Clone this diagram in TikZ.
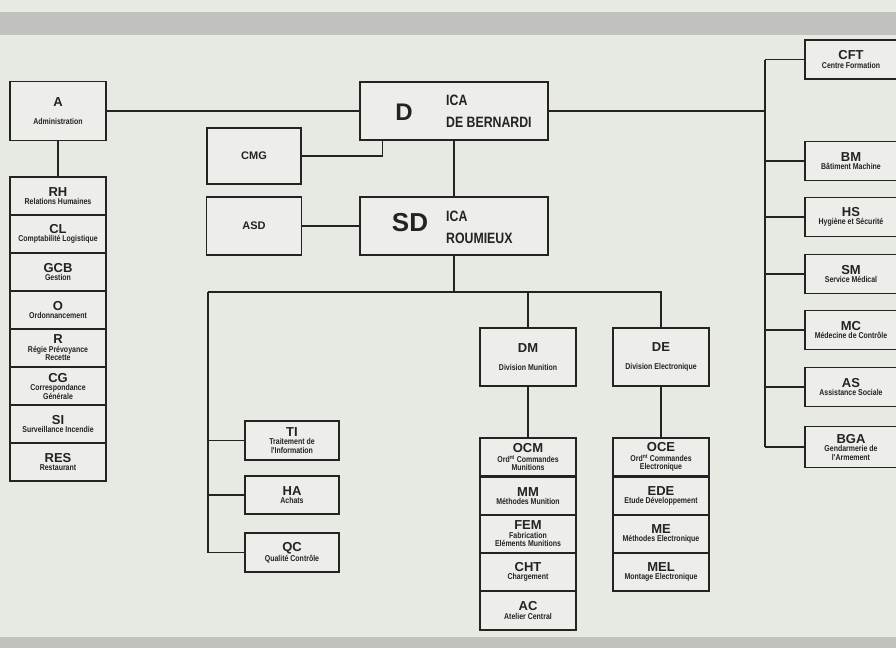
\documentclass[tikz,border=0pt]{standalone}
\usepackage{fontspec}
\setmainfont{Liberation Sans}
\newfontfamily\narrowfont[FakeStretch=0.82]{Liberation Sans}
\usetikzlibrary{positioning}
\definecolor{paper}{RGB}{231, 233, 227}
\definecolor{boxfill}{RGB}{237, 238, 233}
\definecolor{band}{RGB}{193, 194, 190}
\definecolor{ink}{RGB}{35, 35, 35}
\newcommand{\abv}{\rmfamily\bfseries\fontsize{13}{13}\selectfont}
\newcommand{\bigabv}{\rmfamily\bfseries\fontsize{24}{24}\selectfont}

\begin{document}
\begin{tikzpicture}[
  x=1pt, y=-1pt,
  box/.style={rectangle, draw=ink, line width=1.3pt, fill=boxfill, inner sep=1pt,
    align=center, text=ink, font=\narrowfont\bfseries\fontsize{8.5}{8.5}\selectfont},
  unit/.style={box, minimum width=96pt, minimum height=38pt},
  side/.style={box, minimum width=92pt, minimum height=39pt},
  icaname/.style={font=\narrowfont\bfseries\fontsize{15}{22}\selectfont, text=ink, align=left, inner sep=0pt},
  link/.style={draw=ink, line width=1.2pt}
]
\useasboundingbox (0,0) rectangle (896,648);
\fill[paper] (0,0) rectangle (896,648);
\fill[band] (0,12) rectangle (896,35);
\fill[band] (0,637) rectangle (896,648);

% Direction
\node[box, minimum width=188pt, minimum height=58pt] (D) at (454,111) {};
\node[font=\bigabv, text=ink] (Dl) at (404,112) {D};
\node[icaname, anchor=west] (Dn) at (446,111) {ICA\\DE BERNARDI};
\node[box, minimum width=94pt, minimum height=56pt, font=\abv\fontsize{11}{11}\selectfont] (CMG) at (254,156) {CMG};

% Sous-direction
\node[box, minimum width=188pt, minimum height=58pt] (SD) at (454,226) {};
\node[font=\bigabv\fontsize{26}{26}\selectfont, text=ink] (SDl) at (410,223) {SD};
\node[icaname, anchor=west] (SDn) at (446,227) {ICA\\ROUMIEUX};
\node[box, minimum width=95pt, minimum height=58pt, font=\abv\fontsize{11}{11}\selectfont] (ASD) at (254,226) {ASD};

% Administration
\node[unit, minimum height=59pt] (A) at (58,111) {{\abv A}\\[9pt]Administration};
\node[unit] (RH) at (58,196) {{\abv RH}\\Relations Humaines};
\node[unit] (CL) at (58,234) {{\abv CL}\\Comptabilité Logistique};
\node[unit] (GCB) at (58,272) {{\abv GCB}\\Gestion};
\node[unit] (O) at (58,310) {{\abv O}\\Ordonnancement};
\node[unit] (R) at (58,348) {{\abv R}\\Régie Prévoyance\\Recette};
\node[unit] (CG) at (58,386) {{\abv CG}\\Correspondance\\Générale};
\node[unit] (SI) at (58,424) {{\abv SI}\\Surveillance Incendie};
\node[unit] (RES) at (58,462) {{\abv RES}\\Restaurant};

% Services rattaches
\node[side] (CFT) at (851,59.5) {{\abv CFT}\\Centre Formation};
\node[side] (BM) at (851,161) {{\abv BM}\\Bâtiment Machine};
\node[side] (HS) at (851,217) {{\abv HS}\\Hygiène et Sécurité};
\node[side] (SM) at (851,274) {{\abv SM}\\Service Médical};
\node[side] (MC) at (851,330) {{\abv MC}\\Médecine de Contrôle};
\node[side] (AS) at (851,387) {{\abv AS}\\Assistance Sociale};
\node[side, minimum height=41pt] (BGA) at (851,447) {{\abv BGA}\\Gendarmerie de\\l'Armement};

% Services de la sous-direction
\node[side, minimum width=94pt] (TI) at (292,440.5) {{\abv TI}\\Traitement de\\l'Information};
\node[side, minimum width=94pt, minimum height=38pt] (HA) at (292,495) {{\abv HA}\\Achats};
\node[side, minimum width=94pt] (QC) at (292,552.5) {{\abv QC}\\Qualité Contrôle};

% Division munition
\node[unit, minimum height=58pt] (DM) at (528,357) {{\abv DM}\\[9pt]Division Munition};
\node[unit] (OCM) at (528,457) {{\abv OCM}\\[1.5pt]Ord\textsuperscript{nt} Commandes\\Munitions};
\node[unit] (MM) at (528,496) {{\abv MM}\\Méthodes Munition};
\node[unit] (FEM) at (528,534) {{\abv FEM}\\Fabrication\\Eléments Munitions};
\node[unit] (CHT) at (528,572) {{\abv CHT}\\Chargement};
\node[unit, minimum height=39pt] (AC) at (528,610.5) {{\abv AC}\\Atelier Central};

% Division electronique
\node[unit, minimum height=58pt] (DE) at (661,357) {{\abv DE}\\[9pt]Division Electronique};
\node[unit] (OCE) at (661,457) {{\abv OCE}\\[1.5pt]Ord\textsuperscript{nt} Commandes\\Electronique};
\node[unit] (EDE) at (661,496) {{\abv EDE}\\Etude Développement};
\node[unit] (ME) at (661,534) {{\abv ME}\\Méthodes Electronique};
\node[unit] (MEL) at (661,572) {{\abv MEL}\\Montage Electronique};

% Liaisons
\coordinate (bus) at (208,292);
\coordinate (rail) at (765,62);
\draw[link] (A.east) -- (D.west);
\draw[link] (A.south) -- (RH.north);
\draw[link] (CMG.east) -| ([xshift=23pt]D.south west);
\draw[link] (D.south) -- (SD.north);
\draw[link] (ASD.east) -- (SD.west);
\draw[link] (SD.south) -- (SD.south |- bus);
\draw[link] (bus) -- (bus -| DE.north) -- (DE.north);
\draw[link] (DM.north |- bus) -- (DM.north);
\draw[link] (bus) |- (QC.west);
\draw[link] (bus |- TI.west) -- (TI.west);
\draw[link] (bus |- HA.west) -- (HA.west);
\draw[link] (DM.south) -- (OCM.north);
\draw[link] (DE.south) -- (OCE.north);
\draw[link] (D.east) -- (D.east -| rail);
\draw[link] (rail |- CFT.west) -- (rail |- BGA.west);
\foreach \s in {CFT, BM, HS, SM, MC, AS, BGA}
  \draw[link] (rail |- \s.west) -- (\s.west);
\end{tikzpicture}
\end{document}
